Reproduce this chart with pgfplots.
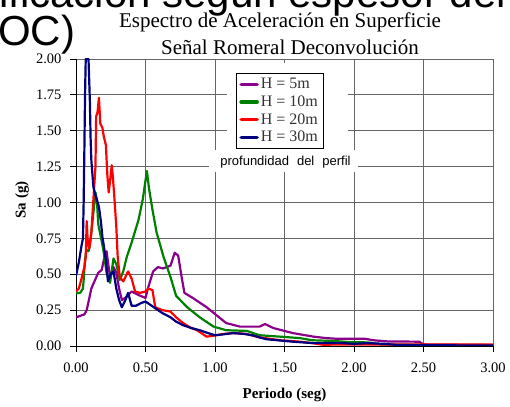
\documentclass[border=0pt]{standalone}
\usepackage{fontspec}
\setmainfont{Liberation Serif}
\newfontfamily\arial{Liberation Sans}
\usepackage{pgfplots}
\pgfplotsset{compat=1.18}
\definecolor{cpurple}{HTML}{8B008B}
\definecolor{cgreen}{HTML}{008000}
\definecolor{cred}{HTML}{FF0000}
\definecolor{cnavy}{HTML}{000080}
\begin{document}
\begin{tikzpicture}[x=1pt,y=1pt]
\useasboundingbox (0,0) rectangle (510,406);
\node[anchor=base west, inner sep=0, font=\arial\fontsize{42}{48}\selectfont] at (-1,398.5) {ificación según espesor del};
\node[anchor=base west, inner sep=0, font=\arial\fontsize{42}{48}\selectfont] at (-2,360) {OC)};
\node[anchor=base, inner sep=0, font=\fontsize{21}{24}\selectfont] at (280,378) {Espectro de Aceleración en Superficie};
\node[anchor=base, inner sep=0, font=\fontsize{21}{24}\selectfont] at (290,351) {Señal Romeral Deconvolución};
\begin{axis}[at={(76pt,60pt)}, anchor=origin, scale only axis,
  width=417pt, height=287pt,
  xmin=0, xmax=3, ymin=0, ymax=2,
  axis lines=left, axis line style={-, black, line width=0.8pt},
  xtick={0,0.5,1,1.5,2,2.5,3},
  ytick={0,0.25,0.5,0.75,1,1.25,1.5,1.75,2},
  grid=major, major grid style={black!60, line width=0.8pt},
  tick align=outside, major tick length=6pt,
  tick style={black, line width=0.8pt},
  ticklabel style={font=\fontsize{14.5}{17}\selectfont},
  xticklabel style={yshift=-7pt},
  yticklabel style={xshift=-5pt},
  /pgf/number format/.cd, fixed, fixed zerofill, precision=2, assume math mode=true,
  /pgfplots/.cd,
  legend style={at={(axis cs:1.151,1.902)}, anchor=north west, draw=black,
    line width=0.8pt, fill=white, font=\fontsize{16}{18}\selectfont,
    text=black!80, inner sep=3pt, row sep=1.5pt},
  legend cell align=left,
  legend image code/.code={\draw[#1, line width=3.5pt, line cap=round] (0pt,0pt) -- (16pt,0pt);},
]
\fill[white] (axis cs:1.086,1.366) rectangle (axis cs:1.957,1.97);
\fill[white] (axis cs:0.955,1.21) rectangle (axis cs:2.03,1.366);
\node[font=\arial\fontsize{13}{15}\selectfont, anchor=base] at (axis cs:1.507,1.261) {profundidad\hspace{8pt}del\hspace{8pt}perfil};

\addplot[cpurple, line width=2.2pt, line join=round] coordinates {
(0,0.20) (0.03,0.21) (0.06,0.22) (0.077,0.25) (0.095,0.33) (0.11,0.40) (0.137,0.46) (0.16,0.51) (0.185,0.53) (0.20,0.60) (0.22,0.66) (0.235,0.55) (0.245,0.48) (0.27,0.55) (0.29,0.51) (0.31,0.40) (0.33,0.32) (0.36,0.34) (0.40,0.38) (0.45,0.355) (0.50,0.335) (0.52,0.41) (0.555,0.52) (0.59,0.55) (0.625,0.54) (0.68,0.56) (0.71,0.65) (0.735,0.63) (0.76,0.48) (0.78,0.37) (0.84,0.335) (0.94,0.27) (1.01,0.215) (1.08,0.16) (1.18,0.135) (1.32,0.135) (1.36,0.153) (1.42,0.125) (1.56,0.09) (1.65,0.075) (1.71,0.065) (1.8,0.055) (1.88,0.05) (2.08,0.05) (2.14,0.04) (2.24,0.032) (2.47,0.03) (2.5,0.01) (3.0,0.006)};
\addlegendentry{H = 5m}
\addplot[cgreen, line width=2.2pt, line join=round] coordinates {
(0,0.37) (0.03,0.37) (0.05,0.40) (0.055,0.46) (0.065,0.60) (0.075,0.67) (0.09,0.66) (0.10,0.70) (0.12,0.88) (0.14,1.07) (0.15,1.02) (0.16,0.85) (0.17,0.80) (0.195,0.68) (0.22,0.51) (0.245,0.44) (0.27,0.61) (0.29,0.57) (0.315,0.46) (0.34,0.52) (0.365,0.62) (0.40,0.72) (0.45,0.88) (0.48,1.02) (0.51,1.22) (0.525,1.10) (0.55,0.95) (0.58,0.79) (0.63,0.62) (0.68,0.48) (0.72,0.35) (0.80,0.27) (0.89,0.20) (0.99,0.135) (1.08,0.11) (1.23,0.105) (1.32,0.075) (1.47,0.065) (1.61,0.055) (1.70,0.04) (1.85,0.035) (1.96,0.028) (2.1,0.025) (2.2,0.01) (2.5,0.008) (3.0,0.006)};
\addlegendentry{H = 10m}
\addplot[cred, line width=2.2pt, line join=round] coordinates {
(0,0.38) (0.02,0.40) (0.04,0.47) (0.06,0.55) (0.07,0.62) (0.077,0.87) (0.085,0.72) (0.095,0.68) (0.11,0.78) (0.125,1.02) (0.14,1.25) (0.145,1.60) (0.155,1.63) (0.165,1.73) (0.175,1.55) (0.19,1.52) (0.20,1.46) (0.215,1.40) (0.225,1.20) (0.235,1.07) (0.245,1.15) (0.257,1.26) (0.265,1.18) (0.275,1.05) (0.29,0.83) (0.30,0.62) (0.315,0.48) (0.34,0.45) (0.375,0.52) (0.40,0.47) (0.425,0.38) (0.46,0.37) (0.50,0.38) (0.52,0.40) (0.55,0.39) (0.57,0.27) (0.62,0.25) (0.68,0.24) (0.72,0.20) (0.77,0.16) (0.82,0.13) (0.87,0.11) (0.94,0.065) (1.01,0.075) (1.07,0.085) (1.13,0.09) (1.22,0.085) (1.32,0.06) (1.47,0.04) (1.61,0.03) (1.70,0.02) (1.78,0.008) (1.85,0.01) (2.0,0.01) (2.5,0.01) (3.0,0.01)};
\addlegendentry{H = 20m}
\addplot[cnavy, line width=2.2pt, line join=round] coordinates {
(0,0.49) (0.02,0.58) (0.04,0.70) (0.05,0.75) (0.055,1.0) (0.06,1.35) (0.065,1.75) (0.07,2.0) (0.09,2.0) (0.095,1.85) (0.10,1.70) (0.105,1.45) (0.11,1.30) (0.125,1.11) (0.14,1.05) (0.15,1.02) (0.165,0.97) (0.18,0.86) (0.19,0.76) (0.20,0.70) (0.215,0.60) (0.23,0.45) (0.25,0.50) (0.27,0.52) (0.29,0.40) (0.31,0.32) (0.33,0.27) (0.355,0.32) (0.375,0.37) (0.40,0.28) (0.43,0.28) (0.47,0.30) (0.50,0.31) (0.53,0.29) (0.56,0.27) (0.62,0.23) (0.68,0.20) (0.72,0.17) (0.77,0.145) (0.83,0.125) (0.89,0.11) (0.95,0.09) (1.0,0.075) (1.05,0.08) (1.13,0.09) (1.2,0.085) (1.27,0.075) (1.32,0.06) (1.37,0.047) (1.45,0.04) (1.56,0.03) (1.71,0.02) (1.8,0.02) (1.92,0.02) (2.0,0.015) (2.1,0.02) (2.22,0.015) (2.3,0.008) (2.5,0.005) (3.0,0.004)};
\addlegendentry{H = 30m}
\end{axis}
\node[font=\bfseries\fontsize{15}{18}\selectfont] at (284.5,11) {Periodo (seg)};
\node[rotate=90, font=\bfseries\fontsize{15}{18}\selectfont] at (22,206) {Sa (g)};
\end{tikzpicture}
\end{document}
